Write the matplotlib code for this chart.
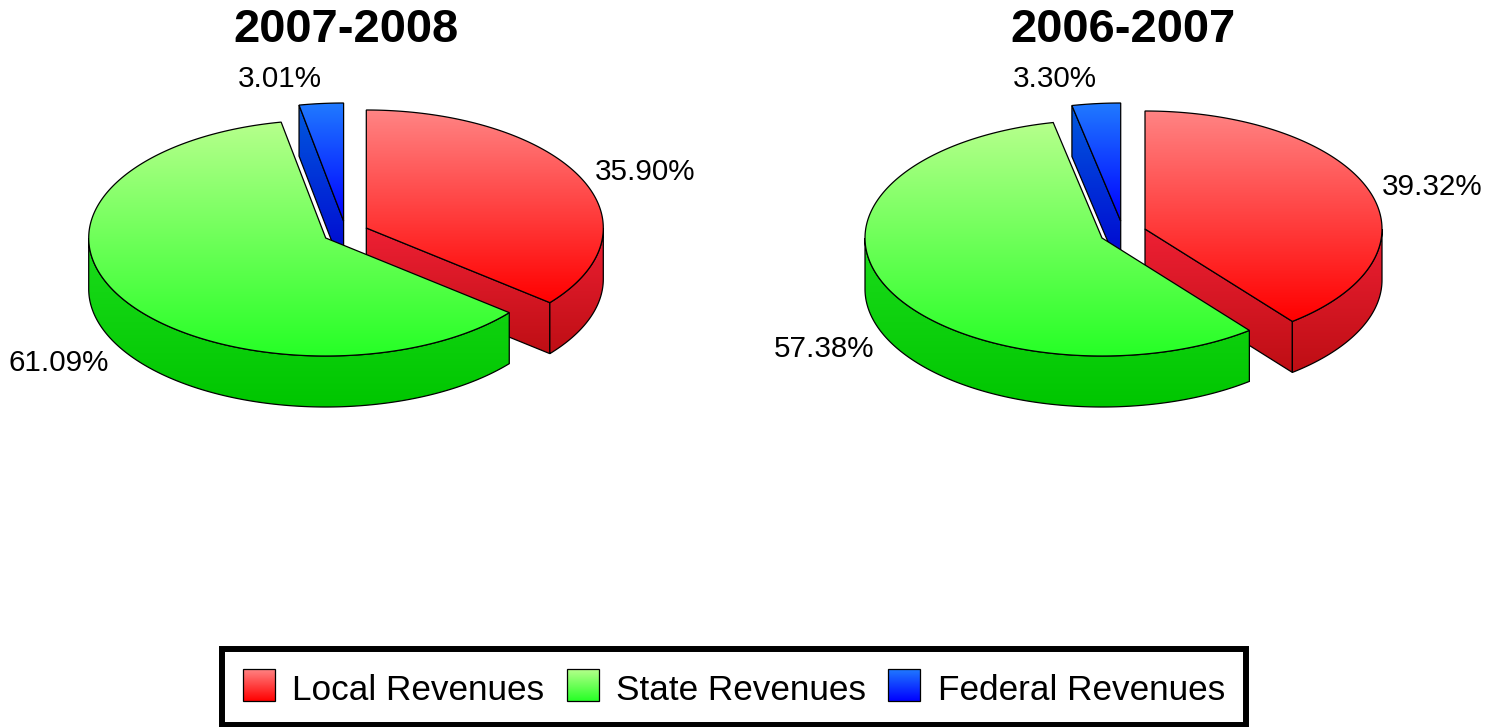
import numpy as np
import matplotlib
matplotlib.use('Agg')
import matplotlib.pyplot as plt
from matplotlib.patches import Polygon, Rectangle

plt.rcParams['font.family'] = ['Liberation Sans', 'DejaVu Sans']

categories = ['Local Revenues', 'State Revenues', 'Federal Revenues']
titles = ['2007-2008', '2006-2007']
shares_2007 = [35.90, 61.09, 3.01]
shares_2006 = [39.32, 57.38, 3.30]

# top face (light, full) and side face (top, bottom) colours for each slice
top_cols = [[(255, 132, 132), (255, 0, 0)],
            [(182, 255, 140), (38, 255, 38)],
            [(32, 122, 255), (0, 0, 255)]]
side_cols = [[(238, 32, 52), (190, 14, 20)],
             [(28, 220, 28), (0, 198, 0)],
             [(0, 90, 222), (0, 0, 208)]]

RX, RY, DEPTH = 237, 118, 51

fig = plt.figure(figsize=(14.87, 7.27), dpi=100)
ax = fig.add_axes([0, 0, 1, 1])
ax.axis('off')


def grad_poly(pts, cols, zorder, lw=0.9):
    pts = np.array(pts)
    c = np.array(cols) / 255.
    t = np.linspace(0, 1, 256)[:, None]
    img = (c[0] * (1 - t) + c[1] * t)[:, None, :]
    box = (pts[:, 0].min(), pts[:, 0].max(), pts[:, 1].max(), pts[:, 1].min())
    im = ax.imshow(img, extent=box, aspect='auto', zorder=zorder, interpolation='bilinear')
    clip = Polygon(pts, closed=True, transform=ax.transData)
    im.set_clip_path(clip)
    ax.add_patch(Polygon(pts, closed=True, fill=False, ec='black', lw=lw, zorder=zorder + 0.1))


def arc(cx, cy, a, b):
    th = np.radians(np.linspace(a, b, 200))
    return np.column_stack([cx + RX * np.sin(th), cy - RY * np.cos(th)])


def slice3d(cx, cy, a, b, i, z):
    down = np.array([0, DEPTH])
    apex = np.array([cx, cy])
    # radial side faces that look at the viewer
    for ang, vis in [(a, np.sin(np.radians(a)) < -1e-6), (b, np.sin(np.radians(b)) > 1e-6)]:
        if vis:
            p = arc(cx, cy, ang, ang)[0]
            grad_poly([apex, p, p + down, apex + down], side_cols[i], z)
    # outer rim, front half only
    lo, hi = max(a, 90), min(b, 270)
    if hi > lo:
        rim = arc(cx, cy, lo, hi)
        grad_poly(np.vstack([rim, rim[::-1] + down]), side_cols[i], z + 0.2)
    grad_poly(np.vstack([[apex], arc(cx, cy, a, b)]), top_cols[i], z + 0.4)


def pie3d(shares, centers):
    edges = np.cumsum([0] + shares)
    edges = edges / edges[-1] * 360
    # blue first, then red, green goes over both
    for z, i in zip([2, 3, 4], [2, 0, 1]):
        slice3d(centers[i][0], centers[i][1], edges[i], edges[i + 1], i, z)


pie3d(shares_2007, [(366.3, 228), (325.7, 238), (343.6, 221)])
pie3d(shares_2006, [(1145, 229), (1102, 238), (1120.7, 221)])

ax.text(345.8, 30.5, titles[0], fontsize=33.9, fontweight='bold', ha='center', va='center')
ax.text(1123.3, 30.5, titles[1], fontsize=33.9, fontweight='bold', ha='center', va='center')

label_pos_l = [(279.5, 79), (645.5, 172), (59, 363)]
label_pos_r = [(1054.5, 79), (1432.5, 187), (824.5, 349)]
for v, p in zip([shares_2007[2], shares_2007[0], shares_2007[1]], label_pos_l):
    ax.text(p[0], p[1], '%.2f%%' % v, fontsize=21.3, ha='center', va='center')
for v, p in zip([shares_2006[2], shares_2006[0], shares_2006[1]], label_pos_r):
    ax.text(p[0], p[1], '%.2f%%' % v, fontsize=21.3, ha='center', va='center')

# legend box
ax.add_patch(Rectangle((222, 648.7), 1024, 76.3, fc='white', ec='black', lw=4.3, zorder=5))
swatch_x = [243, 567, 888]
text_x = [292, 616, 938]
for i in range(3):
    x = swatch_x[i]
    grad_poly([(x, 669), (x + 32, 669), (x + 32, 701), (x, 701)], top_cols[i], 6)
    ax.text(text_x[i], 691, categories[i], fontsize=25.3, ha='left', va='center', zorder=7)

ax.set_xlim(0, 1487)
ax.set_ylim(727, 0)
fig.savefig('out.png', dpi=100)
